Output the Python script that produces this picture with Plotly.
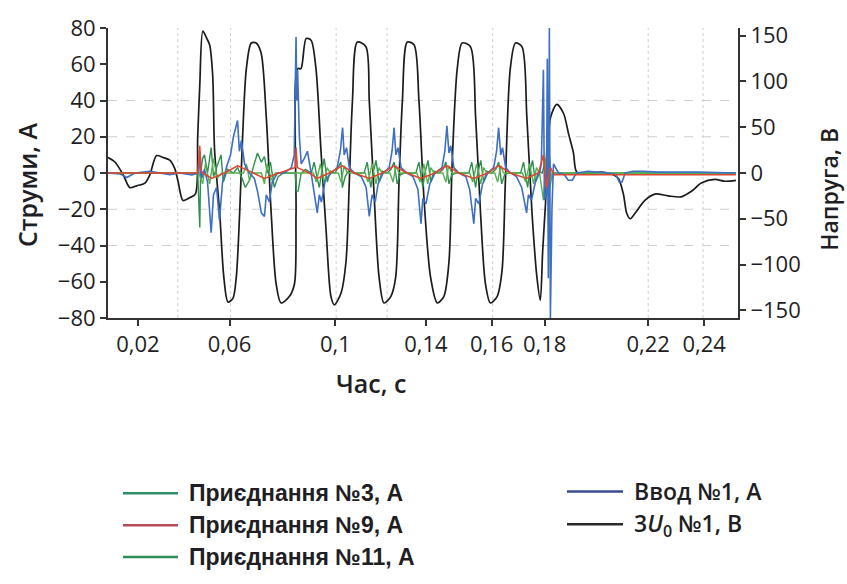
import plotly.graph_objects as go

# ---------------- data ----------------
# 3U0 No1, V  (right axis)
T_U0 = [0.0118, 0.0145, 0.0177, 0.0203, 0.0229, 0.0261, 0.0280, 0.0306, 0.0331, 0.0357,
        0.0376, 0.0389, 0.0408, 0.0434, 0.0456, 0.0465, 0.0473, 0.0485, 0.0500, 0.0511,
        0.0523, 0.0530, 0.0550, 0.0566, 0.0582, 0.0601, 0.0614, 0.0627, 0.0639, 0.0653,
        0.0672, 0.0691, 0.0710, 0.0730, 0.0749, 0.0768, 0.0787, 0.0819, 0.0839, 0.0845,
        0.0851, 0.0864, 0.0884, 0.0903, 0.0922, 0.0941, 0.0961, 0.0980, 0.0993, 0.1019,
        0.1038, 0.1051, 0.1063, 0.1082, 0.1115, 0.1128, 0.1147, 0.1166, 0.1185, 0.1211,
        0.1230, 0.1243, 0.1256, 0.1275, 0.1301, 0.1320, 0.1339, 0.1365, 0.1391, 0.1416,
        0.1436, 0.1448, 0.1468, 0.1487, 0.1519, 0.1539, 0.1558, 0.1577, 0.1596, 0.1622,
        0.1641, 0.1654, 0.1673, 0.1693, 0.1718, 0.1737, 0.1757, 0.1776, 0.1789, 0.1798,
        0.1809, 0.1829, 0.1853, 0.1879, 0.1898, 0.1917, 0.1930, 0.1975, 0.2026, 0.2065,
        0.2091, 0.2110, 0.2123, 0.2136, 0.2155, 0.2193, 0.2232, 0.2283, 0.2334, 0.2373,
        0.2411, 0.2463, 0.2502, 0.2545]
U0 = [17, 12, -2, -16, -14, -11, -2, 19, 17, 14,
      5, -9, -30, -27, -23, 40, 96, 155, 147, 140,
      106, 26, -44, -114, -141, -137, -114, -44, 43, 114,
      142, 142, 131, 61, -44, -121, -142, -135, -121, -44,
      114, 114, 147, 145, 114, 26, -62, -135, -144, -131,
      -97, -9, 79, 143, 138, 79, -26, -114, -142, -135,
      -114, -9, 79, 143, 140, 79, -26, -114, -142, -135,
      -97, 8, 114, 142, 138, 61, -44, -121, -142, -135,
      -107, -9, 114, 142, 138, 61, -44, -114, -139, -86,
      -34, 61, 75, 65, 43, 22, 1, 0, 1, -1,
      -6, -23, -44, -50, -44, -30, -23, -25, -26, -20,
      -11, -7, -9, -8]

# Ввод No1, A
T_IN1 = [0.0118, 0.0164, 0.0191, 0.0222, 0.0280, 0.0318, 0.0357, 0.0395, 0.0442, 0.0469,
         0.0474, 0.0480, 0.0491, 0.0503, 0.0517, 0.0526, 0.0538, 0.0549, 0.0561, 0.0580,
         0.0592, 0.0603, 0.0619, 0.0626, 0.0634, 0.0646, 0.0665, 0.0684, 0.0696, 0.0711,
         0.0723, 0.0730, 0.0742, 0.0753, 0.0773, 0.0800, 0.0827, 0.0838, 0.0845, 0.0848,
         0.0851, 0.0858, 0.0865, 0.0877, 0.0889, 0.0900, 0.0912, 0.0927, 0.0935, 0.0943,
         0.0958, 0.0981, 0.1004, 0.1016, 0.1025, 0.1031, 0.1040, 0.1051, 0.1070, 0.1097,
         0.1116, 0.1128, 0.1139, 0.1151, 0.1162, 0.1182, 0.1205, 0.1216, 0.1224, 0.1231,
         0.1239, 0.1251, 0.1274, 0.1297, 0.1316, 0.1328, 0.1335, 0.1347, 0.1362, 0.1382,
         0.1409, 0.1420, 0.1428, 0.1436, 0.1443, 0.1455, 0.1474, 0.1501, 0.1516, 0.1532,
         0.1539, 0.1551, 0.1566, 0.1586, 0.1609, 0.1620, 0.1628, 0.1636, 0.1643, 0.1655,
         0.1674, 0.1697, 0.1717, 0.1736, 0.1743, 0.1755, 0.1770, 0.1786, 0.1793, 0.1801,
         0.1805, 0.1813, 0.1816, 0.1820, 0.1824, 0.1828, 0.1834, 0.1840, 0.1859, 0.1882,
         0.1897, 0.1913, 0.1928, 0.1974, 0.2051, 0.2082, 0.2094, 0.2105, 0.2117, 0.2148,
         0.2186, 0.2244, 0.2398, 0.2545]
IN1 = [0, -0.5, -2.5, 0, 1, 0, -1, 0, -1, 0,
       12, -3, 2, -5, -33, -12, -8, -26, -5, 5,
       10, 20, 29, 12, 18, 5, 0, -3, -10, -22,
       -24, -12, -16, -5, 0, 0, 3, 10, 75, 40,
       57, 20, 5, 8, 12, 3, -8, -22, -12, -16,
       -4, 0, 3, 12, 25, 10, 14, 3, 0, -2,
       -8, -24, -12, -16, -6, 0, 3, 12, 25, 10,
       14, 3, 0, -2, -9, -28, -14, -17, -6, 0,
       3, 12, 26, 11, 15, 3, 0, -2, -9, -28,
       -14, -17, -6, 0, 3, 12, 25, 10, 14, 3,
       0, -2, -8, -22, -12, -15, -5, 0, 5, 57,
       -15, -10, 63, -58, 80, -80, -20, 5, 0, -1,
       -4, -4, 0, 1, 0, -1, -5, -5, 0, 1,
       1, 0.5, 0.5, 0]

# Приєднання No9, A
T_C9 = [0.0118, 0.0465, 0.0473, 0.0476, 0.0484, 0.0519, 0.0569, 0.0619, 0.0665, 0.0723,
        0.0780, 0.0842, 0.0845, 0.0850, 0.0896, 0.0927, 0.0973, 0.1024, 0.1070, 0.1128,
        0.1178, 0.1224, 0.1274, 0.1328, 0.1382, 0.1428, 0.1474, 0.1532, 0.1586, 0.1628,
        0.1674, 0.1736, 0.1782, 0.1801, 0.1813, 0.1828, 0.1844, 0.2545]
C9 = [0, 0, 15, 2, 0, -3, 0, 4, 1, -3,
      0, 3, 14, 3, 0, -3, 0, 4, 0, -3,
      0, 4, 0, -3, 0, 4, 0, -3, 0, 4,
      0, -3, 0, 10, -8, 3, -1, -1]

# Приєднання No3, A
T_C3 = [0.0118, 0.0465, 0.0473, 0.0476, 0.0484, 0.0491, 0.0503, 0.0517, 0.0526, 0.0541,
        0.0555, 0.0564, 0.0580, 0.0603, 0.0619, 0.0634, 0.0649, 0.0665, 0.0680, 0.0696,
        0.0711, 0.0723, 0.0734, 0.0746, 0.0761, 0.0776, 0.0796, 0.0842, 0.0846, 0.0853,
        0.0865, 0.0881, 0.0904, 0.0915, 0.0927, 0.0935, 0.0946, 0.0954, 0.0966, 0.0977,
        0.0996, 0.1008, 0.1018, 0.1024, 0.1035, 0.1051, 0.1070, 0.1108, 0.1120, 0.1134,
        0.1143, 0.1154, 0.1166, 0.1178, 0.1197, 0.1212, 0.1224, 0.1236, 0.1247, 0.1263,
        0.1308, 0.1320, 0.1335, 0.1343, 0.1355, 0.1366, 0.1378, 0.1397, 0.1413, 0.1424,
        0.1436, 0.1447, 0.1463, 0.1513, 0.1524, 0.1539, 0.1547, 0.1559, 0.1570, 0.1582,
        0.1601, 0.1617, 0.1628, 0.1640, 0.1651, 0.1667, 0.1713, 0.1724, 0.1740, 0.1747,
        0.1759, 0.1770, 0.1782, 0.1797, 0.1809, 0.1816, 0.1824, 0.1832, 0.1844, 0.2545]
C3 = [0, 0, -30, 0, 8, 10, 0, 14, -2, 4,
      10, -5, 2, 0, 3, -2, -8, -4, 4, 11,
      6, 9, 0, 6, -8, -2, 0, 0, -10, -10,
      0, 2, 0, 6, -3, -8, 2, 8, -5, 1,
      0, 3, 6, -8, -2, 2, 0, 0, 6, -8,
      0, 7, -5, 1, 0, 2, 6, -6, -1, 0,
      0, 6, -8, 0, 7, -5, 1, 0, 2, 6,
      -6, -1, 0, 0, 6, -8, 0, 7, -5, 1,
      0, 2, 6, -6, -1, 0, 0, 6, -8, 0,
      7, -5, 1, 0, 8, -12, 10, -4, 0, 0]

# Приєднання No11, A
T_C11 = [0.0118, 0.0469, 0.0484, 0.0495, 0.0511, 0.0526, 0.0541, 0.0557, 0.0642, 0.0653,
         0.0665, 0.0676, 0.0711, 0.0723, 0.0734, 0.0750, 0.0765, 0.0912, 0.0923, 0.0939,
         0.0954, 0.0965, 0.0977, 0.1008, 0.1019, 0.1031, 0.1043, 0.1112, 0.1123, 0.1139,
         0.1154, 0.1166, 0.1177, 0.1208, 0.1220, 0.1231, 0.1243, 0.1312, 0.1324, 0.1339,
         0.1354, 0.1366, 0.1378, 0.1412, 0.1424, 0.1435, 0.1447, 0.1516, 0.1528, 0.1543,
         0.1559, 0.1570, 0.1582, 0.1613, 0.1624, 0.1636, 0.1647, 0.1720, 0.1732, 0.1747,
         0.1763, 0.1774, 0.1786, 0.1801, 0.1813, 0.1824, 0.1836, 0.2545]
C11 = [0, 0, -6, 5, -6, 8, -3, 0, 0, 5,
       -4, 0, 0, -6, 5, -4, 0, 0, -5, 5,
       -6, 3, 0, 0, -5, 4, 0, 0, -5, 5,
       -6, 3, 0, 0, -5, 4, 0, 0, -5, 5,
       -6, 3, 0, 0, -5, 4, 0, 0, -5, 5,
       -6, 3, 0, 0, -5, 4, 0, 0, -5, 5,
       -6, 3, 0, -15, 12, -10, 0, 0]

X_TICK_LABELS = ["0,02", "0,06", "0,1", "0,14", "0,16", "0,18", "0,22", "0,24"]
I_TICKS = [-80, -60, -40, -20, 0, 20, 40, 60, 80]
U_TICKS = [-150, -100, -50, 0, 50, 100, 150]

for a, b in [(T_U0, U0), (T_IN1, IN1), (T_C9, C9), (T_C3, C3), (T_C11, C11)]:
    assert len(a) == len(b), (len(a), len(b))

# ---------------- layout helpers ----------------
X_RANGE = [0.01183, 0.2553]
X_TICK_POS = [0.0234, 0.0588, 0.0997, 0.1347, 0.1601, 0.1806, 0.2206, 0.2422]
X_GRID_POS = [0.0388, 0.0592, 0.1000, 0.1197, 0.1605, 0.2206, 0.2418]

AX_COL = "#333333"
TXT_COL = "#1e1e24"
TICK_FONT = dict(family="Open Sans", size=22, color=TXT_COL, weight=500)

fig = go.Figure()

# voltage (drawn first so the currents appear on top)
fig.add_trace(go.Scatter(x=T_U0, y=U0, name="3U0 №1, В", mode="lines",
                         line=dict(color="#1c1c1c", width=1.7, shape="spline", smoothing=0.8),
                         yaxis="y", showlegend=False))
fig.add_trace(go.Scatter(x=T_C3, y=C3, name="Приєднання №3, А", mode="lines",
                         line=dict(color="#2f8f4e", width=1.4), yaxis="y2", showlegend=False))
fig.add_trace(go.Scatter(x=T_C11, y=C11, name="Приєднання №11, А", mode="lines",
                         line=dict(color="#57b04f", width=1.4), yaxis="y2", showlegend=False))
fig.add_trace(go.Scatter(x=T_IN1, y=IN1, name="Ввод №1, А", mode="lines",
                         line=dict(color="#3d6fc4", width=1.6), yaxis="y2", showlegend=False))
fig.add_trace(go.Scatter(x=T_C9, y=C9, name="Приєднання №9, А", mode="lines",
                         line=dict(color="#e2452c", width=1.5), yaxis="y2", showlegend=False))

shapes = []
for gx in X_GRID_POS:
    shapes.append(dict(type="line", xref="x", yref="paper", x0=gx, x1=gx, y0=0, y1=1,
                       line=dict(color="#cfcfcf", width=1, dash="dot"), layer="below"))
for gy in [-40, -20, 20, 40]:
    shapes.append(dict(type="line", xref="paper", yref="y2", x0=0, x1=1, y0=gy, y1=gy,
                       line=dict(color="#cfcfcf", width=1, dash="dash"), layer="below"))

# manual legend (long line samples as in the reference)
W, H, L, B = 630.0, 301.0, 108.0, 318.0
def px(xp):
    return (xp - L) / W
def py(yp):
    return (B - yp) / H

legend_items = [
    ("Приєднання №3, А", "#2f8f66", 123, 178, 187, 500, "Liberation Sans", 700, 23),
    ("Приєднання №9, А", "#b84a55", 123, 178, 187, 533, "Liberation Sans", 700, 23),
    ("Приєднання №11, А", "#2f8f5a", 123, 178, 187, 566, "Liberation Sans", 700, 23),
    ("Ввод №1, А", "#3b4a8f", 567, 623, 632, 498, "Open Sans", 600, 23),
    ("3<i>U</i><sub>0</sub> №1, В", "#2a2a2a", 567, 623, 632, 532, "Open Sans", 600, 23),
]
annotations = []
for text, col, x0, x1, tx, yy, fam, wt, sz in legend_items:
    shapes.append(dict(type="line", xref="paper", yref="paper", x0=px(x0), x1=px(x1),
                       y0=py(yy), y1=py(yy), line=dict(color=col, width=2.5)))
    annotations.append(dict(text=text, xref="paper", yref="paper", x=px(tx), y=py(yy),
                            xanchor="left", yanchor="middle", showarrow=False,
                            font=dict(family=fam, size=sz, color=TXT_COL, weight=wt)))

# axis titles
annotations.append(dict(text="Струми, А", xref="paper", yref="paper", x=px(27), y=py(180),
                        xanchor="center", yanchor="middle", textangle=-90, showarrow=False,
                        font=dict(family="Open Sans", size=25, color=TXT_COL, weight=600)))
annotations.append(dict(text="Напруга, В", xref="paper", yref="paper", x=px(829), y=py(185),
                        xanchor="center", yanchor="middle", textangle=-90, showarrow=False,
                        font=dict(family="Open Sans", size=23, color=TXT_COL, weight=600)))
annotations.append(dict(text="Час, с", xref="paper", yref="paper", x=px(371), y=py(385),
                        xanchor="center", yanchor="middle", showarrow=False,
                        font=dict(family="Open Sans", size=25, color=TXT_COL, weight=600)))

fig.update_layout(
    width=847, height=584,
    margin=dict(l=108, r=109, t=17, b=266, pad=0),
    paper_bgcolor="white", plot_bgcolor="white",
    showlegend=False,
    xaxis=dict(range=X_RANGE, tickvals=X_TICK_POS, ticktext=X_TICK_LABELS,
               ticks="outside", ticklen=6, tickwidth=1.5, tickcolor=AX_COL,
               showline=True, linecolor=AX_COL, linewidth=2, showgrid=False,
               zeroline=False, tickfont=TICK_FONT),
    yaxis=dict(range=[-158.4, 158.4], tickvals=U_TICKS, side="right",
               ticks="outside", ticklen=6, tickwidth=1.5, tickcolor=AX_COL,
               showline=True, linecolor=AX_COL, linewidth=2, showgrid=False,
               zeroline=False, tickfont=TICK_FONT),
    yaxis2=dict(range=[-80, 80], tickvals=I_TICKS, side="left", overlaying="y",
                ticks="outside", ticklen=6, tickwidth=1.5, tickcolor=AX_COL,
                showline=True, linecolor=AX_COL, linewidth=2, showgrid=False,
                zeroline=False, tickfont=TICK_FONT),
    shapes=shapes,
    annotations=annotations,
)

fig.write_html("out.html")
